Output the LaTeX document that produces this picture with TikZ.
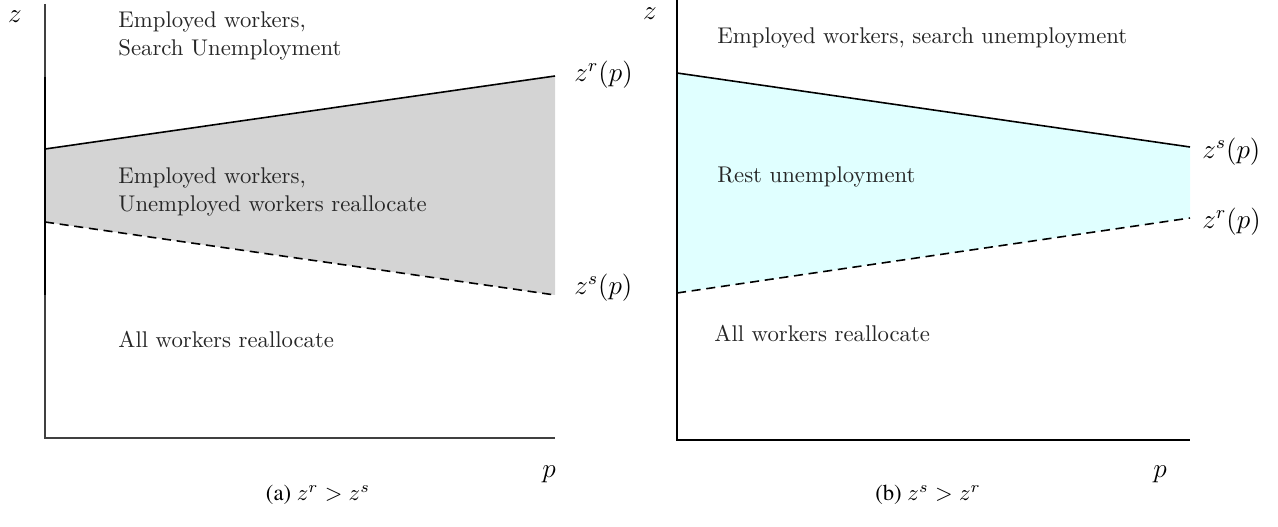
\documentclass[tikz,border=0pt]{standalone}
\usepackage[T1,TU]{fontenc}
\usepackage{fontspec}
\definecolor{restcyan}{rgb}{0.88,1,1}
\definecolor{midgray}{rgb}{0.83,0.83,0.83}
\newcommand{\capfnt}{\fontencoding{T1}\fontfamily{ptm}\selectfont}
\begin{document}
\begin{tikzpicture}[x=0.44pt,y=-0.44pt,
  axis/.style={line width=0.7pt,black},
  bound/.style={line width=0.7pt,black},
  dbound/.style={line width=0.7pt,black,dash pattern=on 4pt off 2.5pt},
  region/.style={anchor=west,inner sep=0pt,align=left,text=black!85,font=\normalsize},
  curvelab/.style={anchor=west,inner sep=0pt,font=\large},
  axlab/.style={inner sep=0pt,font=\large},
  caption/.style={inner sep=0pt,font=\normalsize\capfnt}]
\useasboundingbox (0,0) rectangle (1278,527);
% ---------- panel (a)
\coordinate (aO) at (45,438);
\coordinate (aT) at (45,4);
\coordinate (aR) at (555,438);
\coordinate (aL1) at (45,149);
\coordinate (aR1) at (555,76);
\coordinate (aL2) at (45,222);
\coordinate (aR2) at (555,295);
\fill[midgray] (aL1) -- (aR1) -- (aR2) -- (aL2) -- cycle;
\draw[axis,black!75] (aT) -- (aO) -- (aR);
\draw[axis] (45,77) -- (45,295);
\draw[bound] (aL1) -- (aR1);
\draw[dbound] (aL2) -- (aR2);
\node[axlab] (az) at (15,17) {$z$};
\node[axlab] (ap) at (549,474) {$p$};
\node[region] (a1) at (118,36) {Employed workers,\\Search Unemployment};
\node[region] (a2) at (118,192) {Employed workers,\\Unemployed workers reallocate};
\node[region] (a3) at (118,339) {All workers reallocate};
\node[curvelab] (azr) at (574,75) {$z^r(p)$};
\node[curvelab] (azs) at (574,288) {$z^s(p)$};
\node[caption] (acap) at (318,495) {(a) $z^r > z^s$};
% ---------- panel (b)
\coordinate (bO) at (677,440);
\coordinate (bT) at (677,0);
\coordinate (bR) at (1190,440);
\coordinate (bL1) at (677,73);
\coordinate (bR1) at (1190,147);
\coordinate (bL2) at (677,293);
\coordinate (bR2) at (1190,218);
\fill[restcyan] (bL1) -- (bR1) -- (bR2) -- (bL2) -- cycle;
\draw[axis] (bT) -- (bO) -- (bR);
\draw[bound] (bL1) -- (bR1);
\draw[dbound] (bL2) -- (bR2);
\node[axlab] (bz) at (650,14) {$z$};
\node[axlab] (bp) at (1160,474) {$p$};
\node[region] (b1) at (717,38) {Employed workers, search unemployment};
\node[region] (b2) at (717,177) {Rest unemployment};
\node[region] (b3) at (714,333) {All workers reallocate};
\node[curvelab] (bzs) at (1202,152) {$z^s(p)$};
\node[curvelab] (bzr) at (1202,222) {$z^r(p)$};
\node[caption] (bcap) at (928,495) {(b) $z^s > z^r$};
\end{tikzpicture}
\end{document}
